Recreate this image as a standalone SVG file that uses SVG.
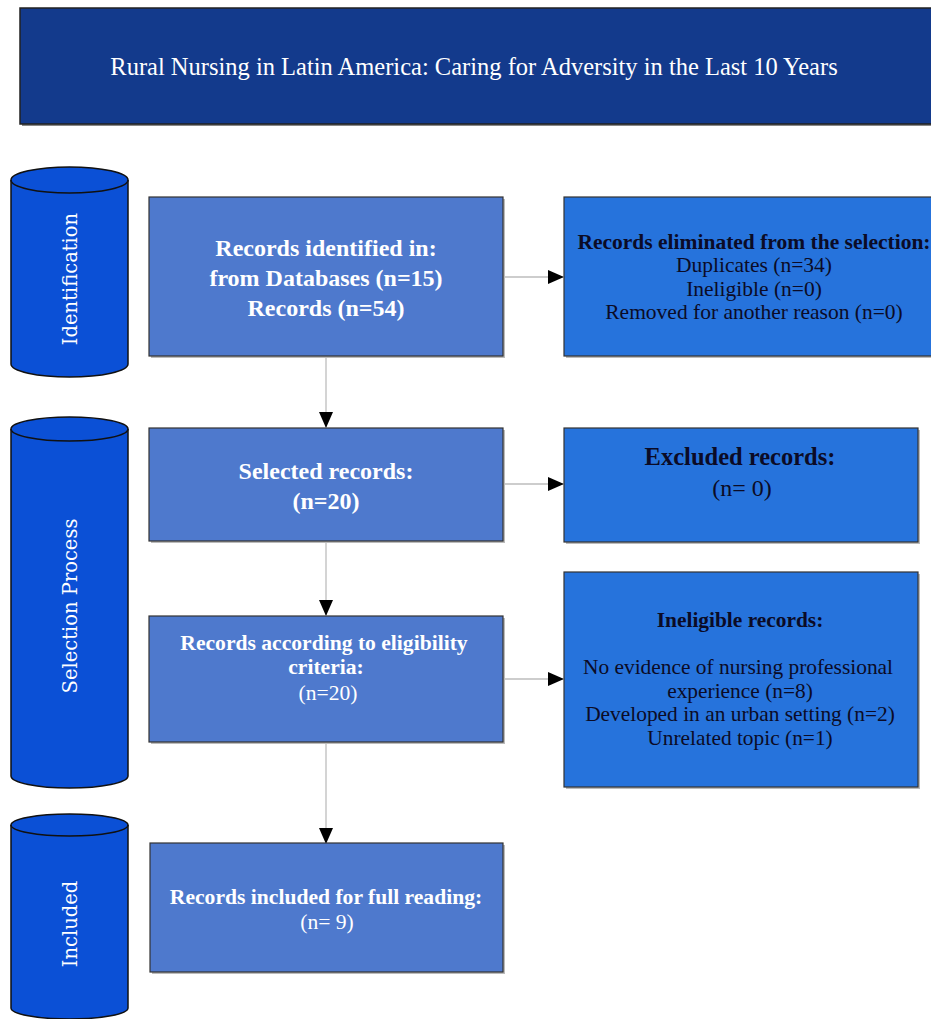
<svg xmlns="http://www.w3.org/2000/svg" width="931" height="1019" viewBox="0 0 931 1019">
<style>
.cyl{fill:#0b50d6;stroke:#111;stroke-width:1.5}
.cyltop{fill:none;stroke:#111;stroke-width:1.5}
.cyltxt{font-family:"DejaVu Serif",serif;font-size:19.5px;fill:#fff;text-anchor:middle;dominant-baseline:central}
.boxA{fill:#4e79cd;stroke:#333;stroke-width:1.2}
.boxB{fill:#2673dc;stroke:#333;stroke-width:1.2}
.shadow{fill:#bbb}
.wt{font-family:"Liberation Serif",serif;fill:#fff;text-anchor:middle}
.dk{font-family:"Liberation Serif",serif;fill:#0b0b26;text-anchor:middle}
.b{font-weight:bold}
.conn{stroke:#bdbdbd;stroke-width:1.3;fill:none}
</style>
<defs>
<marker id="ah" markerWidth="16" markerHeight="14" refX="15" refY="7" orient="auto" markerUnits="userSpaceOnUse">
<path d="M0,0 L16,7 L0,14 Z" fill="#000"/>
</marker>
</defs>
<rect width="931" height="1019" fill="#fff"/>

<g id="title">
<rect x="22" y="10" width="912" height="116" fill="#888"/>
<rect x="20" y="8" width="912" height="116" fill="#133a8c" stroke="#222" stroke-width="1.5"/>
<text class="wt" x="474" y="75" font-size="24.5">Rural Nursing in Latin America: Caring for Adversity in the Last 10 Years</text>
</g>

<g id="cyl-identification">
<path class="cyl" d="M11,180 A58.5,13 0 0 1 128,180 L128,364 A58.5,13 0 0 1 11,364 Z"/>
<path class="cyltop" d="M11,180 A58.5,13 0 0 0 128,180"/>
<text class="cyltxt" transform="translate(70,279) rotate(-90)">Identification</text>
</g>

<g id="cyl-selection">
<path class="cyl" d="M11,429 A58.5,12 0 0 1 128,429 L128,776 A58.5,12 0 0 1 11,776 Z"/>
<path class="cyltop" d="M11,429 A58.5,12 0 0 0 128,429"/>
<text class="cyltxt" transform="translate(70,606) rotate(-90)">Selection Process</text>
</g>

<g id="cyl-included">
<path class="cyl" d="M11,825 A58.5,11 0 0 1 128,825 L128,1008 A58.5,11 0 0 1 11,1008 Z"/>
<path class="cyltop" d="M11,825 A58.5,11 0 0 0 128,825"/>
<text class="cyltxt" transform="translate(70,924) rotate(-90)">Included</text>
</g>

<g id="connectors">
<line class="conn" x1="503" y1="277" x2="563" y2="277" marker-end="url(#ah)"/>
<line class="conn" x1="326" y1="356" x2="326" y2="427" marker-end="url(#ah)"/>
<line class="conn" x1="503" y1="484" x2="563" y2="484" marker-end="url(#ah)"/>
<line class="conn" x1="326" y1="541" x2="326" y2="615" marker-end="url(#ah)"/>
<line class="conn" x1="503" y1="679" x2="563" y2="679" marker-end="url(#ah)"/>
<line class="conn" x1="326" y1="742" x2="326" y2="843" marker-end="url(#ah)"/>
</g>

<g id="box-identified">
<rect class="shadow" x="151" y="199" width="354" height="159"/>
<rect class="boxA" x="149" y="197" width="354" height="159"/>
<text class="wt b" x="326" y="256" font-size="24">Records identified in:</text>
<text class="wt b" x="326" y="286" font-size="24">from Databases (n=15)</text>
<text class="wt b" x="326" y="316" font-size="24">Records (n=54)</text>
</g>

<g id="box-eliminated">
<rect class="shadow" x="566" y="199" width="380" height="159"/>
<rect class="boxB" x="564" y="197" width="380" height="159"/>
<text class="dk b" x="754" y="249" font-size="21.5">Records eliminated from the selection:</text>
<text class="dk" x="754" y="272" font-size="21.5">Duplicates (n=34)</text>
<text class="dk" x="754" y="296" font-size="21.5">Ineligible (n=0)</text>
<text class="dk" x="754" y="319" font-size="21.5">Removed for another reason (n=0)</text>
</g>

<g id="box-selected">
<rect class="shadow" x="151" y="430" width="354" height="113"/>
<rect class="boxA" x="149" y="428" width="354" height="113"/>
<text class="wt b" x="326" y="479" font-size="24">Selected records:</text>
<text class="wt b" x="326" y="509" font-size="24">(n=20)</text>
</g>

<g id="box-excluded">
<rect class="shadow" x="566" y="430" width="354" height="114"/>
<rect class="boxB" x="564" y="428" width="354" height="114"/>
<text class="dk b" x="740" y="465" font-size="24.5">Excluded records:</text>
<text class="dk" x="742" y="496" font-size="24">(n= 0)</text>
</g>

<g id="box-eligibility">
<rect class="shadow" x="151" y="618" width="354" height="126"/>
<rect class="boxA" x="149" y="616" width="354" height="126"/>
<text class="wt b" x="324" y="650" font-size="21.6">Records according to eligibility</text>
<text class="wt b" x="326" y="674" font-size="21.6">criteria:</text>
<text class="wt" x="328" y="700" font-size="21.6">(n=20)</text>
</g>

<g id="box-ineligible">
<rect class="shadow" x="566" y="574" width="354" height="215"/>
<rect class="boxB" x="564" y="572" width="354" height="215"/>
<text class="dk b" x="740" y="627" font-size="21.4">Ineligible records:</text>
<text class="dk" x="738" y="674" font-size="21.4">No evidence of nursing professional</text>
<text class="dk" x="740" y="698" font-size="21.4">experience (n=8)</text>
<text class="dk" x="740" y="721" font-size="21.4">Developed in an urban setting (n=2)</text>
<text class="dk" x="740" y="745" font-size="21.4">Unrelated topic (n=1)</text>
</g>

<g id="box-included">
<rect class="shadow" x="152" y="845" width="353" height="129"/>
<rect class="boxA" x="150" y="843" width="353" height="129"/>
<text class="wt b" x="326" y="904" font-size="21.6">Records included for full reading:</text>
<text class="wt" x="327" y="929" font-size="21.6">(n= 9)</text>
</g>
</svg>
